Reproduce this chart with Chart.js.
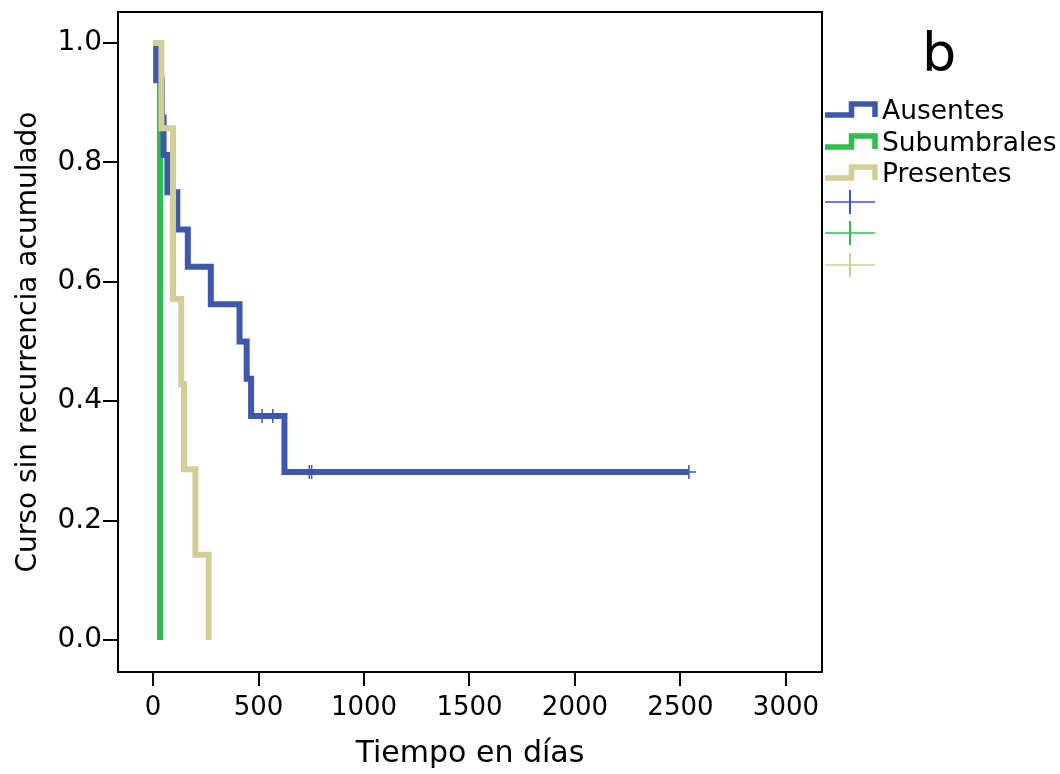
<!DOCTYPE html>
<html lang="es">
<head>
<meta charset="utf-8">
<title>Curso sin recurrencia</title>
<script src="https://cdn.jsdelivr.net/npm/chart.js@4.4.1/dist/chart.umd.min.js"></script>
<style>
  html, body { margin: 0; padding: 0; background: #fff; }
  #wrap { position: relative; width: 1060px; height: 774px; overflow: hidden; }
  #km { position: absolute; left: 0; top: 0; }
  .panel-tag { position: absolute; left: 922px; top: 26px; font: 54px/54px 'DejaVu Sans'; color: #000; }
  .legend-row { position: absolute; left: 825px; height: 30px; display: flex; align-items: center; font: 26.5px 'DejaVu Sans'; color: #000; white-space: nowrap; }
  .legend-row svg { display: block; flex: none; }
  .legend-row span { margin-left: 4px; line-height: 30px; }
</style>
</head>
<body>
<div id="wrap">
  <canvas id="km" width="1060" height="774"></canvas>
  <div class="panel-tag">b</div>
  <div id="legend"></div>
</div>
<script>
// Tiempo en días / supervivencia acumulada por grupo
const xTicks = [0, 500, 1000, 1500, 2000, 2500, 3000];
const yTicks = [0, 0.2, 0.4, 0.6, 0.8, 1.0];

const grupos = ['Ausentes', 'Subumbrales', 'Presentes'];
const colores = ['#3e58ac', '#2fbd4b', '#d3cd98'];

const ausentesDias = [0, 15, 42, 50, 68, 115, 165, 274, 410, 444, 465, 623, 2540];
const ausentesSuperv = [1, 0.9375, 0.875, 0.8125, 0.75, 0.6875, 0.625, 0.5625, 0.5, 0.4375, 0.375, 0.28125, 0.28125];
const ausentesCensura = [517, 568, 741, 752, 2540];

const subumbralesDias = [0, 33];
const subumbralesSuperv = [1, 0];
const subumbralesCensura = [];

const presentesDias = [0, 40, 95, 134, 147, 201, 264];
const presentesSuperv = [1, 0.857, 0.571, 0.429, 0.286, 0.143, 0];
const presentesCensura = [];

// value of the step curve at time t
function survAt(dias, superv, t) {
  let s = superv[0];
  for (let i = 0; i < dias.length; i++) if (dias[i] <= t) s = superv[i];
  return s;
}

function curve(dias, superv) {
  return dias.map((d, i) => ({ x: d, y: superv[i] }));
}

function censored(dias, superv, censura) {
  return censura.map(t => ({ x: t, y: survAt(dias, superv, t) }));
}

const series = [
  [ausentesDias, ausentesSuperv, ausentesCensura],
  [subumbralesDias, subumbralesSuperv, subumbralesCensura],
  [presentesDias, presentesSuperv, presentesCensura]
];
// tan on top, then blue, green at the back
const drawOrder = [1, 2, 0];

const datasets = [];
series.forEach(([dias, superv, censura], i) => {
  datasets.push({
    type: 'line',
    label: grupos[i],
    data: curve(dias, superv),
    borderColor: colores[i],
    borderWidth: 6,
    borderJoinStyle: 'miter',
    borderCapStyle: 'butt',
    stepped: true,
    pointRadius: 0,
    fill: false,
    order: drawOrder[i]
  });
});
series.forEach(([dias, superv, censura], i) => {
  datasets.push({
    type: 'scatter',
    label: grupos[i] + ' censurado',
    data: censored(dias, superv, censura),
    pointStyle: 'cross',
    pointRadius: 7,
    borderColor: colores[i],
    borderWidth: 1.5,
    showLine: false,
    order: -1
  });
});

// box around the plotting area
const frame = {
  id: 'frame',
  beforeDatasetsDraw(chart) {
    const { ctx, chartArea: a } = chart;
    ctx.save();
    ctx.strokeStyle = '#000';
    ctx.lineWidth = 2;
    ctx.strokeRect(a.left, a.top, a.right - a.left, a.bottom - a.top);
    ctx.restore();
  }
};

new Chart(document.getElementById('km'), {
  data: { datasets },
  options: {
    responsive: false,
    animation: false,
    devicePixelRatio: 1,
    layout: { padding: { top: 12, right: 238, left: 0, bottom: 0 } },
    plugins: { legend: { display: false }, tooltip: { enabled: false } },
    scales: {
      x: {
        type: 'linear',
        min: -166,
        max: 3171,
        afterBuildTicks: s => { s.ticks = xTicks.map(v => ({ value: v })); },
        afterFit: s => { s.height = 102; s.paddingLeft = 0; s.paddingRight = 0; },
        grid: { drawOnChartArea: false, drawTicks: true, tickLength: 14, color: '#000', lineWidth: 2 },
        border: { display: false },
        ticks: { color: '#000', font: { family: 'DejaVu Sans', size: 26 }, padding: 7, maxRotation: 0, autoSkip: false, callback: v => String(v) },
        title: { display: true, text: 'Tiempo en días', color: '#000', font: { family: 'DejaVu Sans', size: 30 }, padding: { top: 0, bottom: 2 } }
      },
      y: {
        type: 'linear',
        min: -0.0536,
        max: 1.0519,
        afterBuildTicks: s => { s.ticks = yTicks.map(v => ({ value: v })); },
        afterFit: s => { s.width = 118; s.paddingTop = 0; s.paddingBottom = 0; },
        grid: { drawOnChartArea: false, drawTicks: true, tickLength: 15, color: '#000', lineWidth: 2 },
        border: { display: false },
        ticks: { color: '#000', font: { family: 'DejaVu Sans', size: 28 }, padding: 1, callback: v => v.toFixed(1) },
        title: { display: true, text: 'Curso sin recurrencia acumulado', color: '#000', font: { family: 'DejaVu Sans', size: 28 }, padding: { top: 12, bottom: 0 } }
      }
    }
  },
  plugins: [frame]
});

// legend: step symbol per group, then the censoring cross per group
const legend = document.getElementById('legend');
const rowTops = [95, 127, 158, 187, 218, 250];
grupos.forEach((g, i) => {
  const row = document.createElement('div');
  row.className = 'legend-row';
  row.style.top = rowTops[i] + 'px';
  row.innerHTML =
    `<svg width="53" height="20"><path d="M0 15 H26.5 V4 H50 V17" fill="none" stroke="${colores[i]}" stroke-width="5.5" stroke-linejoin="miter"/></svg>` +
    `<span>${g}</span>`;
  legend.appendChild(row);
});
grupos.forEach((g, i) => {
  const row = document.createElement('div');
  row.className = 'legend-row';
  row.style.top = rowTops[i + 3] + 'px';
  row.innerHTML =
    `<svg width="52" height="26"><line x1="0" y1="13" x2="50" y2="13" stroke="${colores[i]}" stroke-width="1.5"/>` +
    `<line x1="25" y1="1" x2="25" y2="25" stroke="${colores[i]}" stroke-width="2"/></svg>`;
  legend.appendChild(row);
});
</script>
</body>
</html>
